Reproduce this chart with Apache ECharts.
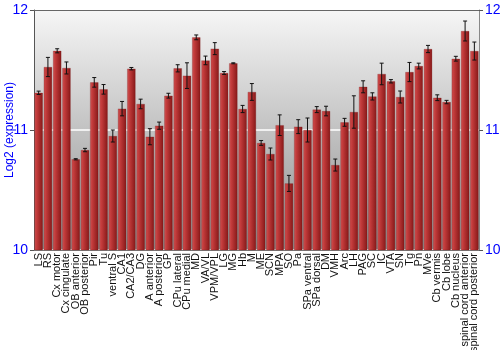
<!DOCTYPE html>
<html><head><meta charset="utf-8">
<script src="https://cdn.jsdelivr.net/npm/echarts@6/dist/echarts.min.js"></script>
<style>html,body{margin:0;padding:0;background:#fff}#c{width:500px;height:350px}</style>
</head><body><div id="c"></div>
<script>
var categories = ["LS","RS","Cx motor","Cx cingulate","OB anterior","OB posterior","Pir","Tu","ventral S","CA1","CA2/CA3","DG","A anterior","A posterior","GP","CPu lateral","CPu medial","MD","VA/VL","VPM/VPL","LG","MG","Hb","M","ME","SCN","MPA","SO","Pa","SPa ventral","SPa dorsal","DM","VMH","Arc","LH","PAG","SC","IC","VTA","SN","Tg","Pn","MVe","Cb vermis","Cb lobe","Cb nucleus","spinal cord anterior","spinal cord posterior"];
var values = [11.31,11.525,11.66,11.517,10.756,10.833,11.397,11.339,10.95,11.178,11.511,11.217,10.944,11.036,11.286,11.514,11.453,11.772,11.58,11.678,11.475,11.556,11.175,11.317,10.892,10.80,11.04,10.555,11.028,11.0,11.17,11.158,10.708,11.064,11.15,11.36,11.28,11.467,11.406,11.275,11.483,11.533,11.675,11.269,11.233,11.594,11.825,11.658];
var errors = [0.014,0.08,0.017,0.05,0.005,0.014,0.04,0.04,0.05,0.06,0.01,0.04,0.067,0.03,0.02,0.03,0.107,0.02,0.036,0.05,0.012,0.004,0.03,0.07,0.02,0.05,0.086,0.067,0.058,0.1,0.025,0.04,0.05,0.033,0.135,0.05,0.03,0.09,0.014,0.05,0.08,0.024,0.03,0.024,0.014,0.02,0.083,0.075];
var yTicks = [10,11,12];

var errData = values.map(function(v,i){return [i, v-errors[i], v+errors[i]];});
var chart = echarts.init(document.getElementById('c'), null, {renderer:'canvas'});
var font = 'Liberation Sans, Arial, sans-serif';
chart.setOption({
  animation:false,
  grid:{left:34,right:21,top:10,bottom:100,show:true,borderWidth:0,containLabel:false,outerBoundsMode:'none',
    backgroundColor:new echarts.graphic.LinearGradient(0,0,0,1,[{offset:0,color:'#f6f6f6'},{offset:1,color:'#8e8e8e'}])},
  xAxis:[{type:'category',data:categories,
    axisLine:{show:true,lineStyle:{color:'#777',width:1}},
    axisTick:{show:false},
    axisLabel:{rotate:90,interval:0,fontFamily:font,fontSize:11,color:'#111',margin:3},
    splitLine:{show:false}},
   {type:'category',position:'top',data:categories,axisLine:{show:true,lineStyle:{color:'#666',width:1}},axisTick:{show:false},axisLabel:{show:false}}],
  yAxis:[{type:'value',min:10,max:12,interval:1,position:'left',
    name:'Log2 (expression)',nameLocation:'middle',nameGap:18,nameMoveOverlap:false,
    nameTextStyle:{color:'#0000ff',fontFamily:font,fontSize:12},
    axisLine:{show:true,lineStyle:{color:'#555',width:1}},
    axisTick:{show:true,length:4,lineStyle:{color:'#555'}},
    axisLabel:{color:'#0000ff',fontFamily:font,fontSize:14,margin:6},
    splitLine:{show:true,lineStyle:{color:'#ffffff',width:1.5}}},
   {type:'value',min:10,max:12,interval:1,position:'right',
    axisLine:{show:true,lineStyle:{color:'#888',width:1}},
    axisTick:{show:true,length:4,lineStyle:{color:'#555'}},
    axisLabel:{color:'#0000ff',fontFamily:font,fontSize:14,margin:6},
    splitLine:{show:false}}],
  series:[
   {type:'bar',data:values,barCategoryGap:'10%',
    itemStyle:{color:new echarts.graphic.LinearGradient(0,0,1,0,[{offset:0,color:'#cc5555'},{offset:0.25,color:'#c43c3c'},{offset:1,color:'#861818'}]),
      borderColor:'rgba(120,20,20,0.5)',borderWidth:0.5}},
   {type:'custom',data:errData,z:5,
    renderItem:function(params,api){
      var x=api.value(0);
      var lo=api.coord([x,api.value(1)]);
      var hi=api.coord([x,api.value(2)]);
      var w=2;
      var st={stroke:'#111',lineWidth:1};
      return {type:'group',children:[
        {type:'line',shape:{x1:lo[0],y1:lo[1],x2:hi[0],y2:hi[1]},style:st},
        {type:'line',shape:{x1:lo[0]-w,y1:lo[1],x2:lo[0]+w,y2:lo[1]},style:st},
        {type:'line',shape:{x1:hi[0]-w,y1:hi[1],x2:hi[0]+w,y2:hi[1]},style:st}
      ]};
    }}
  ]
});
</script></body></html>
